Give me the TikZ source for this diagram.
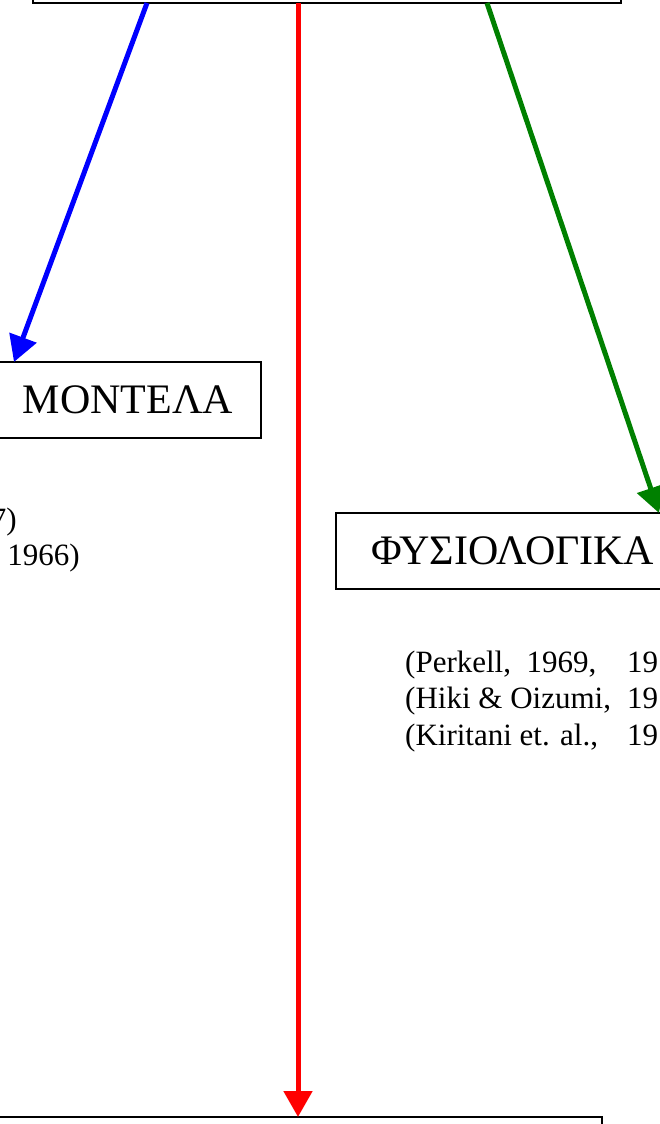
\documentclass[tikz,border=0pt]{standalone}
\usepackage{fontspec}
\setmainfont{Liberation Serif}
\usetikzlibrary{arrows.meta}
\definecolor{arrblue}{RGB}{0,0,255}
\definecolor{arrred}{RGB}{255,0,0}
\definecolor{arrgreen}{RGB}{0,128,0}
\begin{document}
\begin{tikzpicture}[x=1pt,y=-1pt,
  box/.style={draw=black, line width=2pt, rectangle, inner sep=0pt},
  title/.style={font=\fontsize{42}{48}\selectfont},
  cite/.style={font=\fontsize{31}{36}\selectfont, inner sep=0pt, anchor=base west},
  citeleft/.style={font=\fontsize{31}{36}\selectfont, inner sep=0pt, anchor=base east},
  conn/.style={line width=5pt, -{Triangle[length=26pt,width=28pt]}}]
\useasboundingbox (0,0) rectangle (660,1124);
\clip (0,0) rectangle (660,1124);
% boxes
\node[box, minimum width=588pt, minimum height=60pt] (top) at (327,-27) {};
\node[box, title, minimum width=266pt, minimum height=76pt] (montela) at (128,400) {ΜΟΝΤΕΛΑ};
\node[box, title, minimum width=354pt, minimum height=76pt] (physio) at (513,551) {ΦΥΣΙΟΛΟΓΙΚΑ};
\node[box, minimum width=640pt, minimum height=60pt] (bottom) at (282,1147) {};
% texts
\node[citeleft] (l1) at (17,529) {7)};
\node[citeleft] (l2) at (80,565) {1966)};
\node[cite] (c1) at (405,672) {\makebox[222pt][l]{(Perkell,\ \ 1969,}19};
\node[cite] (c2) at (405,708) {\makebox[222pt][l]{(Hiki \& Oizumi,}19};
\node[cite] (c3) at (405,745) {\makebox[222pt][l]{(Kiritani et. al.,}19};
% connector ends
\coordinate (bS) at (147,3);
\coordinate (bE) at (14,362);
\coordinate (rS) at (298,3);
\coordinate (rE) at (298,1117);
\coordinate (gS) at (487,3);
\coordinate (gE) at (659,513);
\draw[conn, arrblue] (bS) -- (bE);
\draw[conn, arrred] (rS) -- (rE);
\draw[conn, arrgreen] (gS) -- (gE);
\end{tikzpicture}
\end{document}
